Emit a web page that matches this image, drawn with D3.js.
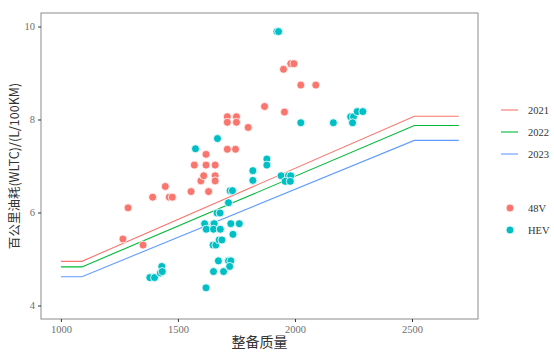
<!DOCTYPE html>
<html>
<head>
<meta charset="utf-8">
<script src="https://cdn.jsdelivr.net/npm/d3@7"></script>
<style>
  body { margin: 0; background: #fff; }
  svg { display: block; }
</style>
</head>
<body>
<svg id="chart" width="554" height="354"></svg>
<script>
// limit lines (整备质量 breakpoints)
const limitMass = [1000, 1090, 2510, 2700];
const limit2021 = [4.95, 4.95, 8.07, 8.07];
const limit2022 = [4.83, 4.83, 7.87, 7.87];
const limit2023 = [4.62, 4.62, 7.55, 7.55];
const years = ["2021", "2022", "2023"];

// 48V points
const mass48V = [1265, 1287, 1351, 1392, 1446, 1463, 1476, 1556, 1570, 1598, 1610, 1620, 1620, 1631,
  1659, 1659, 1659, 1711, 1750, 1711, 1750, 1711, 1746, 1800, 1870, 1951, 1955, 1982, 1996, 2025, 2089];
const fuel48V = [5.43, 6.10, 5.30, 6.33, 6.56, 6.33, 6.33, 6.45, 7.02, 6.68, 6.79, 7.25, 7.02, 6.45,
  7.02, 6.79, 6.68, 8.06, 8.06, 7.94, 7.94, 7.36, 7.36, 7.83, 8.28, 9.08, 8.16, 9.20, 9.20, 8.74, 8.74];

// HEV points
const massHEV = [1380, 1400, 1425, 1431, 1433, 1575, 1620, 1614, 1621, 1652, 1655, 1652, 1681, 1650, 1662,
  1676, 1688, 1652, 1695, 1673, 1716, 1726, 1721, 1667, 1680, 1669, 1716, 1723, 1733, 1726, 1762, 1735,
  1820, 1820, 1880, 1880, 1923, 1930, 1941, 1972, 1982, 1958, 1980, 2025, 2164, 2238, 2250, 2246, 2266, 2290];
const fuelHEV = [4.60, 4.60, 4.70, 4.84, 4.73, 7.37, 4.38, 5.76, 5.64, 5.76, 5.76, 5.64, 5.64, 5.30, 5.30,
  5.41, 5.41, 4.73, 4.73, 4.96, 4.96, 4.96, 4.84, 5.99, 5.99, 7.59, 6.21, 6.47, 6.47, 5.76, 5.76, 5.53,
  6.90, 6.69, 7.15, 7.02, 9.89, 9.89, 6.79, 6.79, 6.79, 6.67, 6.67, 7.93, 7.93, 8.06, 8.06, 7.93, 8.17, 8.17];

const types = ["48V", "HEV"];
const xTicks = [1000, 1500, 2000, 2500];
const yTicks = [4, 6, 8, 10];

const svg = d3.select("#chart"),
      margin = { top: 13, right: 76, bottom: 35, left: 41 },
      width = +svg.attr("width") - margin.left - margin.right,
      height = +svg.attr("height") - margin.top - margin.bottom;

const g = svg.append("g").attr("transform", `translate(${margin.left},${margin.top})`);

const x = d3.scaleLinear().domain([915, 2782]).range([0, width]);
const y = d3.scaleLinear().domain([3.71, 10.29]).range([height, 0]);

const lineColor = d3.scaleOrdinal().domain(years).range(["#F8766D", "#00BA38", "#619CFF"]);
const pointColor = d3.scaleOrdinal().domain(types).range(["#F8766D", "#00BFC4"]);

const numFont = "'Liberation Serif', 'DejaVu Serif', serif";
const cjkFont = "'Noto Sans CJK SC', sans-serif";

// 限值线
const lineData = [limit2021, limit2022, limit2023].map((vals, i) => ({
  year: years[i],
  values: limitMass.map((m, j) => ({ m, v: vals[j] }))
}));
const line = d3.line().x(d => x(d.m)).y(d => y(d.v));

g.selectAll(".limit")
  .data(lineData)
  .join("path")
    .attr("class", "limit")
    .attr("d", d => line(d.values))
    .attr("fill", "none")
    .attr("stroke", d => lineColor(d.year))
    .attr("stroke-width", 1.1);

// 散点
const points = [
  ...mass48V.map((m, i) => ({ type: "48V", m, v: fuel48V[i] })),
  ...massHEV.map((m, i) => ({ type: "HEV", m, v: fuelHEV[i] }))
];
g.selectAll(".pt")
  .data(points)
  .join("circle")
    .attr("class", "pt")
    .attr("cx", d => x(d.m))
    .attr("cy", d => y(d.v))
    .attr("r", 4)
    .attr("fill", d => pointColor(d.type))
    .attr("stroke", "#fff")
    .attr("stroke-width", 0.8);

// 边框
g.append("rect")
  .attr("width", width).attr("height", height)
  .attr("fill", "none").attr("stroke", "#8c8c8c").attr("stroke-width", 1);

// 轴
const xAxis = g.append("g")
  .attr("transform", `translate(0,${height})`)
  .call(d3.axisBottom(x).tickValues(xTicks).tickFormat(d3.format("d")).tickSize(3).tickPadding(4));
const yAxis = g.append("g")
  .call(d3.axisLeft(y).tickValues(yTicks).tickFormat(d3.format("d")).tickSize(3).tickPadding(3));
[xAxis, yAxis].forEach(a => {
  a.select(".domain").remove();
  a.selectAll("line").attr("stroke", "#333");
  a.selectAll("text").style("font-family", numFont).style("font-size", "10.5px").attr("fill", "#6e6e6e");
});

// 轴标题
svg.append("text")
  .attr("x", margin.left + width / 2).attr("y", 347)
  .attr("text-anchor", "middle")
  .style("font-family", cjkFont).style("font-size", "14px").attr("fill", "#333")
  .text("整备质量");

svg.append("text")
  .attr("transform", `translate(19,${margin.top + height / 2}) rotate(-90)`)
  .attr("text-anchor", "middle")
  .style("font-family", cjkFont).style("font-size", "12.5px").attr("fill", "#333")
  .text("百公里油耗(WLTC)/(L/100KM)");

// 图例
const legLines = svg.append("g").attr("transform", "translate(501,110)");
years.forEach((yr, i) => {
  legLines.append("line")
    .attr("x1", 0).attr("x2", 17).attr("y1", i * 22).attr("y2", i * 22)
    .attr("stroke", lineColor(yr)).attr("stroke-width", 1.1);
  legLines.append("text")
    .attr("x", 27).attr("y", i * 22 + 4)
    .style("font-family", numFont).style("font-size", "10.5px").attr("fill", "#333")
    .text(yr);
});

const legPts = svg.append("g").attr("transform", "translate(510,208)");
types.forEach((t, i) => {
  legPts.append("circle")
    .attr("cx", 0).attr("cy", i * 22).attr("r", 4)
    .attr("fill", pointColor(t)).attr("stroke", "#fff").attr("stroke-width", 0.8);
  legPts.append("text")
    .attr("x", 18).attr("y", i * 22 + 4)
    .style("font-family", numFont).style("font-size", "10.5px").attr("fill", "#333")
    .text(t);
});
</script>
</body>
</html>
